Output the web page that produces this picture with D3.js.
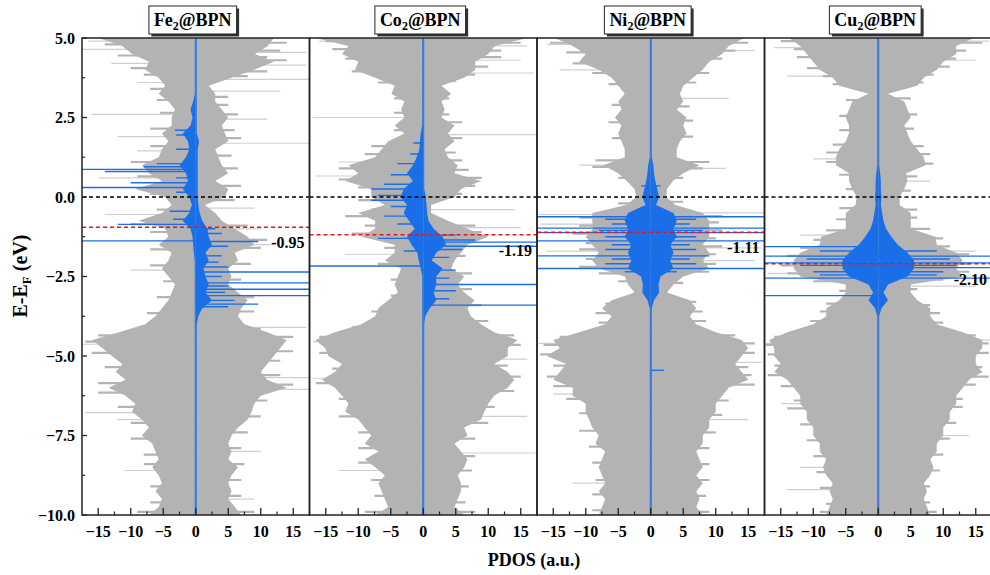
<!DOCTYPE html>
<html>
<head>
<meta charset="utf-8">
<script src="https://cdn.jsdelivr.net/npm/d3@7"></script>
<style>
  body { margin: 0; background: #fff; }
  text { font-family: 'Liberation Serif', 'Times New Roman', serif; font-weight: bold; fill: #000; }
</style>
</head>
<body>
<div id="chart"></div>
<script>
// energy grid (eV), top to bottom
const energies = [5, 4.75, 4.5, 4.25, 4, 3.75, 3.5, 3.25, 3, 2.75, 2.5, 2.25, 2, 1.75, 1.5, 1.25, 1, 0.75, 0.5, 0.25, 0,
  -0.25, -0.5, -0.75, -1, -1.25, -1.5, -1.75, -2, -2.25, -2.5, -2.75, -3, -3.25, -3.5, -3.75, -4, -4.25, -4.5, -4.75, -5,
  -5.25, -5.5, -5.75, -6, -6.25, -6.5, -6.75, -7, -7.25, -7.5, -7.75, -8, -8.25, -8.5, -8.75, -9, -9.25, -9.5, -9.75, -10];

const titles = ['Fe', 'Co', 'Ni', 'Cu'];
const dBandCenters = [-0.95, -1.19, -1.11, -2.10];
const dBandLabels = ['-0.95', '-1.19', '-1.11', '-2.10'];
const yTicks = [5, 2.5, 0, -2.5, -5, -7.5, -10];
const xTicks = [-15, -10, -5, 0, 5, 10, 15];

// total DOS (gray): spin up to the right, spin down to the left
const feUp = [12, 11.1, 9.1, 12, 9, 5.5, 2, 3, 3, 4, 5, 4, 4.5, 5, 3, 3.5, 4, 5, 3, 5, 4.5, 1.4, 3, 4, 6, 8, 9, 6, 6.5, 5, 5.5, 5, 6.5, 8, 7, 6.5, 7.5, 11, 14, 13, 12, 11, 10, 11, 14, 10, 9, 8.6, 8, 6.5, 5.5, 5, 5.5, 5, 6.5, 5.5, 5, 5.5, 5, 6, 7];
const feDown = [-15, -11.3, -9.8, -7.2, -7.8, -5.7, -4.7, -5.7, -4.2, -3.2, -3.7, -3.7, -5.2, -4.2, -5.2, -5.7, -8.3, -7.2, -5.2, -9.3, -4.7, -3.7, -5.2, -8.8, -4.7, -4.2, -5.7, -3.7, -4.2, -5.2, -4.2, -3.2, -3.7, -4.2, -5.2, -6.2, -7.8, -11.8, -15.9, -14.4, -12.9, -11.3, -12.3, -10.8, -13.4, -10.8, -9.3, -9.8, -8.3, -7.2, -8.3, -6.7, -6.2, -5.7, -6.7, -5.7, -5.2, -6.2, -5.2, -5.7, -7.2];
const coUp = [16, 11, 10, 8, 8, 6.3, 2.8, 4.3, 2.8, 3.3, 2.8, 4.8, 3.8, 4.8, 3.3, 3.8, 5.3, 4.8, 8.9, 5.8, 4.8, 1.2, 1.2, 3.8, 6.8, 10, 6.8, 5.8, 4.8, 4.3, 6.3, 5.3, 6.3, 7.9, 6.8, 7.3, 8.9, 10.9, 14.5, 13, 13, 10.9, 13, 14, 13, 10.9, 10, 9.4, 8.9, 6.3, 6.8, 4.8, 5.8, 6.8, 6.3, 5.3, 5.8, 5.8, 5.3, 4.8, 6.3];
const coDown = [-16.6, -11.5, -12.5, -10, -10.5, -7.4, -4.4, -4.9, -2.9, -3.4, -2.9, -4.4, -2.9, -5.4, -6.4, -7.4, -11.5, -10, -12, -8, -8, -5.9, -10, -7.4, -7.4, -9.5, -4.4, -4.4, -5.9, -3.4, -3.9, -4.4, -3.9, -5.4, -6.9, -7.4, -9.5, -13.6, -16.6, -15.1, -14.6, -12.5, -13.6, -15.6, -13.6, -12.5, -11.5, -12, -10, -9, -8, -9, -6.9, -9, -7.4, -5.9, -6.9, -6.4, -5.9, -5.4, -7.4];
const niUp = [14.4, 12, 11, 9, 8, 6.5, 5, 4.5, 5, 4, 5.5, 5, 5.5, 4.5, 4, 4, 7.5, 5, 3.4, 2.5, 2.4, 3.8, 8, 9, 9, 9, 8, 9, 8, 9, 5, 3.5, 2.5, 6, 7, 6, 7, 10, 14, 15, 14, 13, 14, 15, 12, 11, 10, 10, 9, 9, 8, 8, 7, 7.5, 8, 7, 8, 7, 7.5, 7, 8];
const niDown = [-14.8, -12, -10, -11, -8, -6, -5, -4, -5, -4.5, -5.5, -4.5, -5, -4.5, -4, -4, -7.3, -5, -3.7, -2.5, -2.2, -3.8, -9, -9, -8.9, -10, -9, -8, -9, -8, -4, -3.5, -2.5, -6, -7.5, -6, -7, -11, -15, -14, -16, -13, -14, -15, -12, -12, -10, -10, -9.5, -9, -8, -8.5, -7, -7.5, -8, -7.5, -7, -8, -7, -7.5, -8];
const cuUp = [14.7, 12, 12, 10, 9, 7, 6, 1.5, 4, 4.5, 5, 4, 4.5, 5, 6, 7, 7.3, 4.3, 4.5, 4, 3.3, 3.3, 5, 5, 5, 8.8, 9, 12, 13, 12, 13, 5, 5, 6, 8, 8, 9, 13, 16, 16, 15, 15, 16, 14, 13, 12, 12, 11, 11, 10, 10, 9, 9, 8, 8.5, 8, 7, 7.5, 7, 7.5, 8];
const cuDown = [-13.7, -12, -11, -10, -9, -7, -6, -1.5, -4, -4.5, -5, -4.5, -4.5, -5, -6, -6.5, -6.5, -4.5, -4.5, -4, -3.3, -3.5, -5, -5, -5, -8.8, -9, -12, -13, -13, -12, -5, -5, -6, -8, -8, -10, -14, -16.8, -16, -16, -15, -16, -14, -13, -12, -12, -11, -11, -10, -10, -9, -9, -8, -8.5, -8, -7, -7.5, -7, -7.5, -8];

// metal d states (blue)
const feBlueUp = [0.15, 0.15, 0.15, 0.15, 0.15, 0.15, 0.15, 0.15, 0.15, 0.15, 0.15, 0.15, 0.15, 0.5, 0.3, 0.3, 0.3, 0.3, 0.3, 0.3, 0.3, 0.4, 0.6, 1, 1.8, 2, 2.5, 1.5, 2, 1.2, 1.5, 2, 1.5, 2.5, 1, 0.4, 0.15, 0.15, 0.15, 0.15, 0.15, 0.15, 0.15, 0.15, 0.15, 0.15, 0.15, 0.15, 0.15, 0.15, 0.15, 0.15, 0.15, 0.15, 0.15, 0.15, 0.15, 0.15, 0.15, 0.15, 0.15];
const feBlueDown = [-0.15, -0.15, -0.15, -0.15, -0.15, -0.15, -0.15, -0.15, -0.4, -0.8, -0.5, -0.8, -2, -1.2, -1, -1.5, -2.5, -1.5, -1.2, -2, -1, -0.6, -1, -2, -0.8, -0.5, -0.4, -0.3, -0.15, -0.15, -0.15, -0.15, -0.15, -0.15, -0.15, -0.15, -0.15, -0.15, -0.15, -0.15, -0.15, -0.15, -0.15, -0.15, -0.15, -0.15, -0.15, -0.15, -0.15, -0.15, -0.15, -0.15, -0.15, -0.15, -0.15, -0.15, -0.15, -0.15, -0.15, -0.15, -0.15];
const coBlueUp = [0.15, 0.15, 0.15, 0.15, 0.15, 0.15, 0.15, 0.15, 0.15, 0.15, 0.15, 0.15, 0.15, 0.15, 0.15, 0.15, 0.15, 0.15, 0.15, 0.15, 0.4, 0.5, 0.6, 0.8, 1.6, 3, 3.5, 2, 1.3, 3, 2, 2, 1.6, 2, 1, 0.3, 0.15, 0.15, 0.15, 0.15, 0.15, 0.15, 0.15, 0.15, 0.15, 0.15, 0.15, 0.15, 0.15, 0.15, 0.15, 0.15, 0.15, 0.15, 0.15, 0.15, 0.15, 0.15, 0.15, 0.15, 0.15];
const coBlueDown = [-0.15, -0.15, -0.15, -0.15, -0.15, -0.15, -0.15, -0.15, -0.15, -0.15, -0.15, -0.15, -0.4, -0.5, -0.6, -1, -1.6, -2.5, -1.6, -3, -3.5, -2.5, -3, -2.2, -1.3, -2.5, -1.8, -0.9, -0.7, -0.4, -0.15, -0.15, -0.15, -0.15, -0.15, -0.15, -0.15, -0.15, -0.15, -0.15, -0.15, -0.15, -0.15, -0.15, -0.15, -0.15, -0.15, -0.15, -0.15, -0.15, -0.15, -0.15, -0.15, -0.15, -0.15, -0.15, -0.15, -0.15, -0.15, -0.15, -0.15];
const niBlueUp = [0.15, 0.15, 0.15, 0.15, 0.15, 0.15, 0.15, 0.15, 0.15, 0.15, 0.15, 0.15, 0.15, 0.15, 0.15, 0.15, 0.4, 0.5, 0.7, 1, 1.3, 0.8, 3.5, 4, 3.5, 4, 3, 3.5, 3, 3.5, 1.5, 1.2, 1.3, 0.5, 0.15, 0.15, 0.15, 0.15, 0.15, 0.15, 0.15, 0.15, 0.15, 0.15, 0.15, 0.15, 0.15, 0.15, 0.15, 0.15, 0.15, 0.15, 0.15, 0.15, 0.15, 0.15, 0.15, 0.15, 0.15, 0.15, 0.15];
const niBlueDown = [-0.15, -0.15, -0.15, -0.15, -0.15, -0.15, -0.15, -0.15, -0.15, -0.15, -0.15, -0.15, -0.15, -0.15, -0.15, -0.15, -0.4, -0.5, -0.7, -1, -1.3, -0.8, -3.5, -4, -3.5, -4, -3, -3.5, -3, -3.5, -1.5, -1.2, -1.3, -0.5, -0.15, -0.15, -0.15, -0.15, -0.15, -0.15, -0.15, -0.15, -0.15, -0.15, -0.15, -0.15, -0.15, -0.15, -0.15, -0.15, -0.15, -0.15, -0.15, -0.15, -0.15, -0.15, -0.15, -0.15, -0.15, -0.15, -0.15];
const cuBlueUp = [0.15, 0.15, 0.15, 0.15, 0.15, 0.15, 0.15, 0.15, 0.15, 0.15, 0.15, 0.15, 0.15, 0.15, 0.15, 0.15, 0.15, 0.3, 0.4, 0.4, 0.5, 0.4, 0.6, 0.8, 1.2, 2, 3, 4.5, 5.5, 5.5, 4.5, 1.5, 0.8, 1.5, 0.5, 0.15, 0.15, 0.15, 0.15, 0.15, 0.15, 0.15, 0.15, 0.15, 0.15, 0.15, 0.15, 0.15, 0.15, 0.15, 0.15, 0.15, 0.15, 0.15, 0.15, 0.15, 0.15, 0.15, 0.15, 0.15, 0.15];
const cuBlueDown = [-0.15, -0.15, -0.15, -0.15, -0.15, -0.15, -0.15, -0.15, -0.15, -0.15, -0.15, -0.15, -0.15, -0.15, -0.15, -0.15, -0.15, -0.3, -0.4, -0.4, -0.5, -0.4, -0.6, -0.8, -1.2, -2, -3, -4.5, -5.5, -5.5, -4.5, -1.5, -0.8, -1.5, -0.5, -0.15, -0.15, -0.15, -0.15, -0.15, -0.15, -0.15, -0.15, -0.15, -0.15, -0.15, -0.15, -0.15, -0.15, -0.15, -0.15, -0.15, -0.15, -0.15, -0.15, -0.15, -0.15, -0.15, -0.15, -0.15, -0.15];

// narrow peaks between grid points: [energy, value]
const feTexture = [[4.85, 14], [4.6, 13], [4.4, 11], [4.3, 14], [3.95, 11], [3.8, 8], [3.15, 5], [2.9, 5], [2.6, 6.5], [2.1, 6], [1.85, 7], [1.3, 5.5], [0.9, 6.5], [0.35, 7], [-0.1, 6], [-0.9, 8], [-1.35, 11], [-1.6, 10], [-2.1, 8.5], [-2.6, 7], [-3.15, 9], [-3.6, 9], [-4.15, 10], [-4.4, 15], [-4.85, 15], [-5.15, 13], [-5.6, 13], [-5.9, 15], [-6.4, 11], [-6.9, 10], [-7.4, 8], [-7.9, 7], [-8.4, 7.5], [-8.9, 7], [-9.4, 7], [-9.9, 9],
  [4.8, -14], [4.45, -12], [4.05, -10], [3.85, -8], [3.4, -7], [3.05, -6], [2.65, -5.5], [2.15, -7], [1.6, -7], [1.1, -10], [0.65, -9], [0.1, -7], [-0.4, -6], [-0.85, -10], [-1.1, -7], [-1.65, -7], [-2.15, -7], [-2.65, -5], [-3.15, -6], [-3.65, -7.5], [-4.35, -15], [-4.55, -17], [-4.9, -16], [-5.35, -14], [-5.85, -15], [-6.15, -15], [-6.6, -12], [-7.1, -10], [-7.6, -10], [-8.1, -8], [-8.4, -8], [-9.1, -7], [-9.6, -7], [-9.9, -9]];
const coTexture = [[4.85, 15], [4.6, 12], [4.4, 12], [4.1, 10], [3.85, 8], [3.65, 5], [3.1, 4], [2.6, 4], [2.35, 6], [1.85, 6], [1.4, 5], [1.15, 6], [0.85, 7], [0.6, 9], [0.35, 8], [0.1, 6], [-0.9, 8], [-1.1, 9], [-1.4, 8], [-1.85, 6.5], [-2.4, 7.5], [-2.9, 7.5], [-3.4, 9], [-3.9, 10], [-4.35, 14], [-4.65, 15], [-5.3, 13], [-5.65, 15], [-6.1, 14], [-6.6, 11], [-7.1, 10], [-7.6, 8], [-8.15, 8], [-8.6, 7.5], [-9.1, 7], [-9.6, 6.5], [-9.9, 8],
  [4.9, -15], [4.65, -14], [4.35, -12], [3.95, -11], [3.6, -7], [3.1, -4.5], [2.65, -4.5], [2.1, -4.5], [1.6, -8], [1.35, -9], [0.9, -13], [0.55, -13], [0.3, -10], [-0.1, -10], [-0.4, -8], [-0.6, -12], [-0.9, -9], [-1.15, -11], [-1.6, -6], [-2.1, -7], [-2.6, -5], [-3.1, -5], [-3.6, -8], [-4.1, -11], [-4.4, -16], [-4.9, -16], [-5.4, -14], [-5.85, -16.5], [-6.35, -13], [-6.9, -13], [-7.4, -10], [-7.9, -10], [-8.35, -10], [-8.9, -8], [-9.4, -7.5], [-9.9, -9]];
const niTexture = [[4.85, 15], [4.6, 13], [4.35, 11], [3.9, 9], [3.6, 7], [2.85, 6], [2.4, 6.5], [1.9, 6.5], [1.1, 9], [0.9, 8], [0.6, 5], [-0.15, 5], [-0.6, 11], [-0.8, 10.5], [-1.05, 11], [-1.3, 10], [-1.55, 11], [-1.8, 10], [-2.1, 10], [-2.35, 9], [-2.7, 5], [-3.3, 7], [-3.6, 8], [-3.9, 8.5], [-4.35, 13], [-4.6, 16], [-4.9, 16], [-5.35, 15], [-5.6, 15.5], [-5.9, 16], [-6.4, 12], [-6.85, 11], [-7.4, 10], [-7.9, 9], [-8.4, 9], [-8.9, 9], [-9.4, 8.5], [-9.9, 9],
  [4.85, -15.5], [4.55, -13], [4.2, -12], [3.9, -9], [3.55, -6.5], [2.9, -6], [2.35, -6.5], [1.85, -6], [1.15, -8.5], [0.95, -9], [0.6, -5], [-0.2, -5], [-0.65, -11], [-0.9, -11], [-1.15, -12], [-1.45, -10], [-1.65, -11], [-1.95, -10], [-2.2, -11], [-2.4, -8], [-2.65, -5], [-3.35, -7], [-3.65, -8.5], [-3.95, -8], [-4.4, -14], [-4.65, -16.5], [-4.95, -17], [-5.3, -15], [-5.65, -16], [-5.95, -15], [-6.35, -13], [-6.8, -11], [-7.35, -11], [-7.85, -9.5], [-8.35, -9], [-8.9, -8.5], [-9.35, -9], [-9.85, -9]];
const cuTexture = [[4.85, 16], [4.6, 13.5], [4.35, 12], [4.1, 11], [3.85, 8.5], [3.6, 7], [3.1, 5], [2.6, 6], [2.15, 5.5], [1.6, 7], [1.35, 8], [1.05, 8.5], [0.65, 6], [0.2, 5], [-0.4, 6], [-0.65, 6], [-1.0, 8], [-1.3, 10], [-1.55, 11], [-1.8, 14], [-2.1, 14], [-2.35, 14], [-2.6, 10], [-2.9, 6], [-3.4, 8], [-3.65, 9.5], [-3.95, 10], [-4.35, 15], [-4.6, 17], [-4.9, 17], [-5.35, 16], [-5.65, 17], [-5.9, 15], [-6.35, 13], [-6.6, 13], [-7.1, 12], [-7.6, 11], [-8.1, 10], [-8.6, 9.5], [-9.1, 8], [-9.6, 8], [-9.9, 9],
  [4.9, -15], [4.65, -13], [4.4, -12.5], [4.05, -11], [3.8, -8.5], [3.55, -7], [3.05, -5], [2.55, -6], [2.1, -6], [1.65, -7], [1.4, -8], [1.1, -8], [0.7, -6], [0.25, -5], [-0.35, -6], [-0.7, -6.5], [-1.05, -8], [-1.35, -10], [-1.6, -12], [-1.85, -14], [-2.15, -15], [-2.4, -14], [-2.65, -10], [-2.95, -6], [-3.35, -8], [-3.6, -9], [-3.9, -10.5], [-4.4, -16], [-4.65, -17.5], [-4.95, -17], [-5.3, -16], [-5.6, -17], [-5.95, -15], [-6.4, -13], [-6.65, -14], [-7.15, -12], [-7.65, -11], [-8.15, -10], [-8.65, -9.5], [-9.15, -9], [-9.65, -8], [-9.9, -9]];

// long single-energy peaks: [energy, value]
const feGraySpikes = [[4.9, -16.5], [4.64, -17.5], [4.55, 17], [4.2, -13], [4.15, 17], [3.7, 17.5], [3.6, -9], [3.33, 13], [2.6, -16], [2.45, 11], [1.9, -12], [1.69, 17.5], [1.45, -9], [0.6, -15], [-0.35, 9], [-0.55, -14], [-1.0, 10], [-1.5, 12], [-2.3, -10], [-4.1, 17], [-4.63, -17.5], [-5.68, 17.5], [-6.05, 17.5], [-6.78, -17], [-7.0, -12], [-8.0, 10], [-8.6, -11], [-9.5, 9]];
const coGraySpikes = [[4.9, -16], [4.75, 16], [4.3, 15], [3.9, 17], [2.5, -17], [1.96, 17.3], [1.1, -13], [0.66, -16.6], [-0.4, 14], [-0.96, 15], [-1.8, -12], [-4.55, -17], [-5.1, 16], [-5.7, -17], [-6.9, 16], [-8.05, 17.3], [-8.6, -13]];
const niGraySpikes = [[4.8, -16], [4.6, 16], [4.0, -14], [3.1, 12], [1.0, -11], [0.9, 11.6], [-0.5, 17.5], [-0.55, -17.5], [-0.85, -17], [-1.6, 17], [-1.7, -16], [-2.0, 16], [-4.6, -17.5], [-5.2, 17], [-6.2, -15], [-7.0, 15], [-9.0, -12]];
const cuGraySpikes = [[4.9, 17], [4.7, -16], [4.3, 15], [3.8, -14], [1.2, -10], [0.5, 8], [-1.2, -12], [-1.7, 15], [-2.4, -17], [-2.8, 15], [-4.5, 17.5], [-4.6, -17.5], [-5.5, 16], [-6.5, -15], [-7.5, 14], [-8.5, -12], [-9.2, -14]];
const feBlueSpikes = [[2.1, -3.2], [1.95, -3], [1.5, -3], [1.05, -6], [0.95, -8], [0.87, -17.5], [0.8, -14], [0.6, -3], [0.45, -10], [0.3, -17.5], [0.15, -3], [-0.45, -4], [-0.7, -3.5], [-0.86, -12], [-1.38, -17.5],
  [-1.0, 3], [-1.15, 4], [-1.4, 9.6], [-1.55, 5], [-1.85, 4], [-2.05, 3.5], [-2.2, 5], [-2.36, 17.5], [-2.5, 4], [-2.7, 17.5], [-2.8, 5], [-2.9, 17.5], [-3.0, 4.5], [-3.1, 17.5], [-3.25, 6], [-3.37, 9.6], [-3.45, 5]];
const coBlueSpikes = [[1.7, -1.5], [1.35, -2], [1.05, -4], [0.7, -5], [0.4, -6], [0.25, -8], [0.05, -7], [-0.1, -8], [-0.3, -5], [-0.6, -6], [-0.85, -4], [-1.3, -7], [-1.7, -3], [-2.17, -17.5],
  [-1.2, 5], [-1.35, 8], [-1.42, 17.5], [-1.55, 17.5], [-1.65, 6], [-1.9, 4], [-2.3, 5], [-2.55, 4], [-2.75, 17.5], [-2.95, 5], [-3.2, 4], [-3.4, 17.5]];
const niBlueSpikes = [[0.35, -1.5], [0.35, 1.5], [-0.62, -17.5], [-0.62, 17.5], [-0.7, -7], [-0.7, 7], [-0.85, -6], [-0.85, 6], [-0.98, -17.5], [-0.98, 17.5], [-1.05, -8], [-1.05, 8], [-1.12, -17.5], [-1.12, 17.5], [-1.25, -7], [-1.25, 7], [-1.38, -17.5], [-1.38, 17.5], [-1.5, -6], [-1.5, 6], [-1.65, -7], [-1.65, 7], [-1.85, -17.5], [-1.85, 9], [-1.95, -6], [-1.95, 6], [-2.1, -7], [-2.1, 7], [-2.25, -17.5], [-2.25, 17.5], [-2.35, -4], [-2.35, 4], [-5.45, 2]];
const cuBlueSpikes = [[-1.56, -17.5], [-1.7, -9], [-1.7, 9], [-1.86, -17.5], [-1.86, 17.5], [-1.95, -11], [-1.95, 11], [-2.07, -17.5], [-2.07, 17.5], [-2.15, -12], [-2.15, 12], [-2.22, 17.5], [-2.35, -10], [-2.35, 10], [-2.45, -9], [-2.45, 9], [-2.55, -17.5], [-2.55, 17.5], [-3.1, -17.5]];

const svgWidth = 990;
const svgHeight = 575;
const plotTop = 38;
const plotBottom = 515;
const plotLeft = 82;
const panelWidth = 227.5;
const GRAY = '#b3b3b3';
const LIGHT_GRAY = '#cfcfcf';
const BLUE = '#1a6ee8';

const panels = [
  { up: feUp, down: feDown, texture: feTexture, blueUp: feBlueUp, blueDown: feBlueDown, graySpikes: feGraySpikes, blueSpikes: feBlueSpikes },
  { up: coUp, down: coDown, texture: coTexture, blueUp: coBlueUp, blueDown: coBlueDown, graySpikes: coGraySpikes, blueSpikes: coBlueSpikes },
  { up: niUp, down: niDown, texture: niTexture, blueUp: niBlueUp, blueDown: niBlueDown, graySpikes: niGraySpikes, blueSpikes: niBlueSpikes },
  { up: cuUp, down: cuDown, texture: cuTexture, blueUp: cuBlueUp, blueDown: cuBlueDown, graySpikes: cuGraySpikes, blueSpikes: cuBlueSpikes },
];

const svg = d3.select('#chart').append('svg').attr('width', svgWidth).attr('height', svgHeight);

const y = d3.scaleLinear().domain([-10, 5]).range([plotBottom, plotTop]);

const toPoints = (values) => values.map((v, i) => ({ e: energies[i], v }));

const drawSpikes = (g, x, data, color, width) => {
  g.append('g')
    .selectAll('line')
    .data(data)
    .join('line')
    .attr('x1', x(0))
    .attr('x2', (d) => x(d[1]))
    .attr('y1', (d) => y(d[0]))
    .attr('y2', (d) => y(d[0]))
    .attr('stroke', color)
    .attr('stroke-width', width);
};

panels.forEach((p, i) => {
  const left = plotLeft + i * panelWidth;
  const x = d3.scaleLinear().domain([-17.5, 17.5]).range([left, left + panelWidth]);

  svg
    .append('clipPath')
    .attr('id', `clip${i}`)
    .append('rect')
    .attr('x', left)
    .attr('y', plotTop)
    .attr('width', panelWidth)
    .attr('height', plotBottom - plotTop);

  const g = svg.append('g').attr('clip-path', `url(#clip${i})`);

  const area = d3
    .area()
    .y((d) => y(d.e))
    .x0(x(0))
    .x1((d) => x(d.v));

  // gray total DOS
  drawSpikes(g, x, p.graySpikes, LIGHT_GRAY, 1.2);
  drawSpikes(g, x, p.texture, GRAY, 2.2);
  g.append('path').datum(toPoints(p.up)).attr('fill', GRAY).attr('d', area);
  g.append('path').datum(toPoints(p.down)).attr('fill', GRAY).attr('d', area);

  // blue d states
  drawSpikes(g, x, p.blueSpikes, BLUE, 1.4);
  g.append('path').datum(toPoints(p.blueUp)).attr('fill', BLUE).attr('d', area);
  g.append('path').datum(toPoints(p.blueDown)).attr('fill', BLUE).attr('d', area);

  // Fermi level and d-band center
  svg
    .append('line')
    .attr('x1', left)
    .attr('x2', left + panelWidth)
    .attr('y1', y(0))
    .attr('y2', y(0))
    .attr('stroke', '#000')
    .attr('stroke-width', 1.5)
    .attr('stroke-dasharray', '4,3');
  svg
    .append('line')
    .attr('x1', left)
    .attr('x2', left + panelWidth)
    .attr('y1', y(dBandCenters[i]))
    .attr('y2', y(dBandCenters[i]))
    .attr('stroke', '#e8141c')
    .attr('stroke-width', 1.5)
    .attr('stroke-dasharray', '4,3');
  svg
    .append('text')
    .attr('x', left + panelWidth - 5)
    .attr('y', y(dBandCenters[i]) + 21)
    .attr('text-anchor', 'end')
    .style('font-size', '16px')
    .text(dBandLabels[i]);

  // frame
  svg
    .append('rect')
    .attr('x', left)
    .attr('y', plotTop)
    .attr('width', panelWidth)
    .attr('height', plotBottom - plotTop)
    .attr('fill', 'none')
    .attr('stroke', '#222')
    .attr('stroke-width', 1.5);

  // bottom axis, ticks inside
  const xAxis = svg.append('g').attr('transform', `translate(0, ${plotBottom})`);
  xAxis
    .selectAll('line.major')
    .data(xTicks)
    .join('line')
    .attr('class', 'major')
    .attr('x1', (d) => x(d))
    .attr('x2', (d) => x(d))
    .attr('y1', 0)
    .attr('y2', -7)
    .attr('stroke', '#222')
    .attr('stroke-width', 1.3);
  xAxis
    .selectAll('line.minor')
    .data(xTicks.slice(0, -1).map((d) => d + 2.5))
    .join('line')
    .attr('class', 'minor')
    .attr('x1', (d) => x(d))
    .attr('x2', (d) => x(d))
    .attr('y1', 0)
    .attr('y2', -3.5)
    .attr('stroke', '#222')
    .attr('stroke-width', 1.2);
  xAxis
    .selectAll('text')
    .data(xTicks)
    .join('text')
    .attr('x', (d) => x(d))
    .attr('y', 22)
    .attr('text-anchor', 'middle')
    .style('font-size', '16px')
    .text((d) => d3.format('d')(d));

  // title box with shadow
  const cx = x(0) - 3;
  const title = svg.append('g');
  const label = title
    .append('text')
    .attr('x', cx)
    .attr('y', 26)
    .attr('text-anchor', 'middle')
    .style('font-size', '18px');
  label.append('tspan').text(titles[i]);
  label.append('tspan').attr('dy', 4).style('font-size', '12px').text('2');
  label.append('tspan').attr('dy', -4).text('@BPN');
  const bb = label.node().getBBox();
  title
    .insert('rect', 'text')
    .attr('x', bb.x - 5 + 2.5)
    .attr('y', 6 + 2.5)
    .attr('width', bb.width + 10)
    .attr('height', 28)
    .attr('fill', '#333');
  title
    .insert('rect', 'text')
    .attr('x', bb.x - 5)
    .attr('y', 6)
    .attr('width', bb.width + 10)
    .attr('height', 28)
    .attr('fill', '#fff')
    .attr('stroke', '#222')
    .attr('stroke-width', 1);
});

// left axis
const yAxis = svg.append('g');
yAxis
  .selectAll('line.major')
  .data(yTicks)
  .join('line')
  .attr('class', 'major')
  .attr('x1', plotLeft)
  .attr('x2', plotLeft + 5)
  .attr('y1', (d) => y(d))
  .attr('y2', (d) => y(d))
  .attr('stroke', '#222')
  .attr('stroke-width', 1.3);
yAxis
  .selectAll('line.minor')
  .data(yTicks.slice(0, -1).map((d) => d - 1.25))
  .join('line')
  .attr('class', 'minor')
  .attr('x1', plotLeft)
  .attr('x2', plotLeft + 3)
  .attr('y1', (d) => y(d))
  .attr('y2', (d) => y(d))
  .attr('stroke', '#222')
  .attr('stroke-width', 1.2);
yAxis
  .selectAll('text')
  .data(yTicks)
  .join('text')
  .attr('x', plotLeft - 7)
  .attr('y', (d) => y(d) + 5.5)
  .attr('text-anchor', 'end')
  .style('font-size', '16px')
  .text((d) => d3.format('.1f')(d));

const yTitle = svg
  .append('text')
  .attr('transform', 'translate(27, 276) rotate(-90)')
  .attr('text-anchor', 'middle')
  .style('font-size', '20px');
yTitle.append('tspan').text('E-E');
yTitle.append('tspan').attr('dy', 4).style('font-size', '13px').text('F');
yTitle.append('tspan').attr('dy', -4).text(' (eV)');

svg
  .append('text')
  .attr('x', 534)
  .attr('y', 566)
  .attr('text-anchor', 'middle')
  .style('font-size', '18px')
  .text('PDOS (a.u.)');
</script>
</body>
</html>
